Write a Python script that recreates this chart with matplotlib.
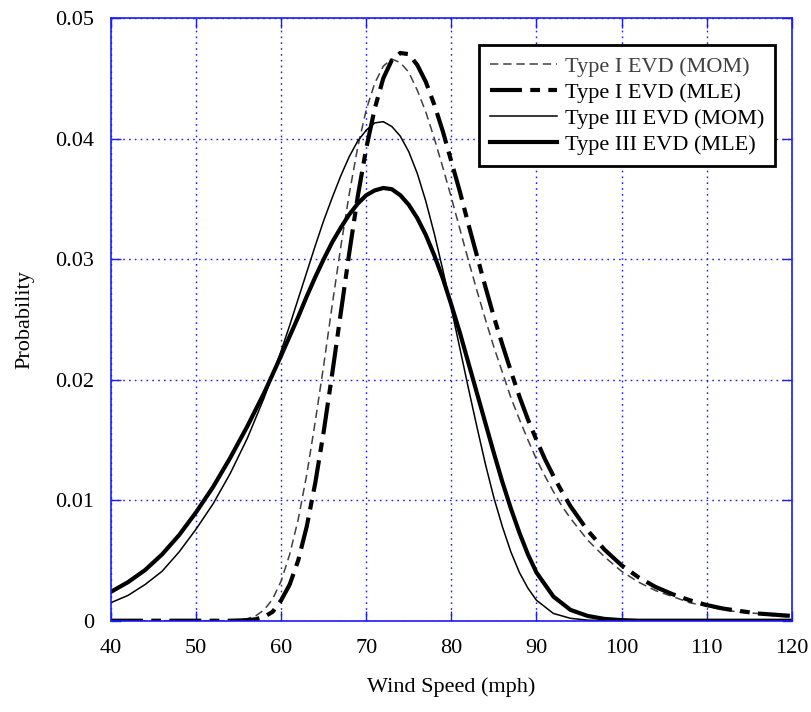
"""
plot.py  -  extreme value distribution fits for wind speed
"""

import numpy as np
import matplotlib
matplotlib.use("Agg")
import matplotlib.pyplot as plt

plt.rcParams['font.family'] = ['Liberation Serif', 'DejaVu Serif']
plt.rcParams['lines.scale_dashes'] = False

# wind speed grid for the Type I curves (finer near the peak)
speed_t1 = list(range(40, 56, 2)) + list(range(56, 95)) + list(range(96, 121, 2))

type1_mom = [0, 0, 0, 0, 0, 0, 0, 0,
             0.00017, 0.0004, 0.0009, 0.0018, 0.0033, 0.0055, 0.0084, 0.0121, 0.0165, 0.0212,
             0.0262, 0.0310, 0.0354, 0.0393, 0.0424, 0.0446, 0.0460, 0.0466, 0.0463, 0.0455,
             0.0440, 0.0422, 0.0400, 0.0376, 0.0351, 0.0325, 0.0299, 0.0274, 0.0250, 0.0227,
             0.0206, 0.0185, 0.0167, 0.0150, 0.0134, 0.0120, 0.0107, 0.0095, 0.0085,
             0.0067, 0.0053, 0.0041, 0.0032, 0.0025, 0.0020, 0.0015, 0.0012, 0.0009, 0.0007,
             0.0006, 0.0004, 0.0003]

type1_mle = [0, 0, 0, 0, 0, 0, 0, 0,
             0.00004, 0.00012, 0.00032, 0.00074, 0.0017, 0.0030, 0.0050, 0.0078, 0.0114, 0.0157,
             0.0205, 0.0255, 0.0305, 0.0352, 0.0392, 0.0425, 0.0450, 0.0465, 0.0471, 0.0470,
             0.0461, 0.0447, 0.0428, 0.0406, 0.0381, 0.0356, 0.0329, 0.0303, 0.0277, 0.0252,
             0.0229, 0.0207, 0.0186, 0.0167, 0.0150, 0.0134, 0.0120, 0.0107, 0.0095,
             0.0075, 0.0059, 0.0046, 0.0036, 0.0028, 0.0022, 0.0017, 0.0013, 0.0010, 0.0008,
             0.0006, 0.0005, 0.0004]

# wind speed grid for the Type III curves
speed_t3 = list(range(40, 60, 2)) + list(range(60, 91)) + list(range(92, 121, 2))

type3_mom = [0.0015, 0.0021, 0.0030, 0.0041, 0.0057, 0.0076, 0.0097, 0.0122, 0.0151, 0.0185,
             0.0224, 0.0245, 0.0267, 0.0289, 0.0311, 0.0332, 0.0351, 0.0369, 0.0385, 0.0398,
             0.0407, 0.0413, 0.0414, 0.0410, 0.0402, 0.0389, 0.0371, 0.0348, 0.0321, 0.0291,
             0.0259, 0.0226, 0.0193, 0.0161, 0.0130, 0.0102, 0.0078, 0.0057, 0.0040, 0.0027,
             0.0017,
             0.0006, 0.0002, 0.00005, 0, 0, 0, 0, 0, 0, 0, 0, 0, 0, 0, 0]

type3_mle = [0.0024, 0.0032, 0.0042, 0.0055, 0.0071, 0.0090, 0.0111, 0.0135, 0.0161, 0.0189,
             0.0220, 0.0236, 0.0252, 0.0269, 0.0285, 0.0300, 0.0314, 0.0326, 0.0337, 0.0346,
             0.0353, 0.0357, 0.0359, 0.0358, 0.0353, 0.0345, 0.0334, 0.0320, 0.0303, 0.0284,
             0.0262, 0.0239, 0.0214, 0.0189, 0.0164, 0.0139, 0.0115, 0.0093, 0.0073, 0.0055,
             0.0040,
             0.0020, 0.0009, 0.0004, 0.00015, 0.00005, 0, 0, 0, 0, 0, 0, 0, 0, 0, 0]

labels = ['Type I EVD (MOM)', 'Type I EVD (MLE)', 'Type III EVD (MOM)', 'Type III EVD (MLE)']

blue = '#1a1aff'

fig = plt.figure(figsize=(8.12, 7.12), dpi=100)
ax = fig.add_axes([0.1367, 0.1282, 0.8383, 0.8465])

ax.plot(speed_t1, type1_mom, color='#404040', lw=1.1, ls=(0, (6, 3.5)), label=labels[0])
ax.plot(speed_t1, type1_mle, color='black', lw=3.0, ls=(0, (23, 6, 7, 6)), label=labels[1])
ax.plot(speed_t3, type3_mom, color='black', lw=1.1, label=labels[2])
ax.plot(speed_t3, type3_mle, color='black', lw=3.0, label=labels[3])

ax.set_xlim(40, 120)
ax.set_ylim(0, 0.05)
ax.set_xticks(range(40, 121, 10))
ax.set_yticks([0, 0.01, 0.02, 0.03, 0.04, 0.05])
ax.set_yticklabels(['0', '0.01', '0.02', '0.03', '0.04', '0.05'])

ax.grid(True, color=blue, ls=(0, (1.2, 3)), lw=1.0)
ax.set_axisbelow(True)
for s in ax.spines.values():
    s.set_color(blue)
    s.set_linewidth(1.2)
ax.tick_params(direction='in', length=7, width=1.0, color=blue,
               top=True, right=True, labelsize=16)
ax.tick_params(axis='x', pad=13)
ax.tick_params(axis='y', pad=12)

ax.set_xlabel('Wind Speed (mph)', fontsize=16, labelpad=14)
ax.set_ylabel('Probability', fontsize=16, labelpad=15)

leg = ax.legend(loc='upper right', bbox_to_anchor=(0.9755, 0.955), fontsize=16,
                handlelength=3.0, handletextpad=0.35, labelspacing=0.25,
                borderpad=0.5, borderaxespad=0, fancybox=False, framealpha=1)
leg.get_frame().set_edgecolor('black')
leg.get_frame().set_linewidth(2.0)
leg.get_texts()[0].set_color('#404040')

plt.savefig('out.png', dpi=100)
